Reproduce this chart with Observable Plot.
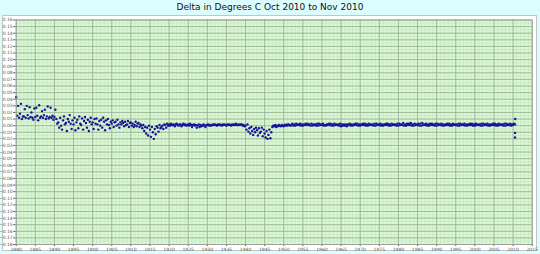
<!DOCTYPE html>
<html><head><meta charset="utf-8">
<script src="https://cdn.jsdelivr.net/npm/d3@7"></script>
<script src="https://cdn.jsdelivr.net/npm/@observablehq/plot@0.6"></script>
<style>
html,body{margin:0;padding:0;background:#dcfdfd;width:540px;height:254px;overflow:hidden;font-family:"DejaVu Sans",sans-serif;}
#title{position:absolute;left:0;top:2px;width:540px;text-align:center;font-size:9px;color:#111;}
#panel{position:absolute;left:2px;top:15px;width:533px;height:234px;background:#fff;border:1px solid #c4c4c4;}
#chart{position:absolute;left:0;top:0;}
</style></head>
<body>
<div id="title">Delta in Degrees C Oct 2010 to Nov 2010</div>
<div id="panel"></div>
<div id="chart"></div>
<script>
// Title
const title = "Delta in Degrees C Oct 2010 to Nov 2010";
// Axis ticks
const xTicks = d3.range(1880, 2016, 5);
const yTicks = d3.range(-18, 17).map(v => v / 100);
const firstYear = 1880;
// Quarterly deltas, thousandths of a degree C, one row per year from 1880
const deltaMilli = [
  [43,15,30,12],[18,33,10,14],[14,25,12,30],[16,11,28,13],[20,12,9,26],
  [13,27,15,8],[31,12,14,22],[12,16,24,10],[14,29,11,13],[27,12,15,9],
  [13,24,10,3],[5,-3,12,0],[-6,8,14,2],[4,-8,10,6],[16,3,-5,8],
  [2,12,-7,5],[9,-4,14,3],[1,11,-6,7],[13,4,-3,9],[-8,6,12,2],
  [5,-5,10,3],[11,2,-6,7],[0,9,-3,12],[6,-7,8,2],[10,1,-4,6],
  [3,8,-2,5],[6,0,9,2],[-3,5,2,7],[4,-1,6,1],[2,7,-2,4],
  [5,0,3,-2],[1,6,-1,3],[4,-2,2,0],[-4,1,-8,-2],[-12,-3,-15,0],
  [-6,-17,-2,-10],[-20,-5,-13,-1],[-3,-9,1,-4],[-2,0,-5,2],[1,-3,3,0],
  [2,0,3,1],[1,2,-1,2],[3,1,0,2],[2,-1,1,3],[1,2,0,1],
  [2,0,3,1],[-2,1,2,0],[1,-3,0,2],[-2,1,-1,0],[2,0,-2,1],
  [1,2,0,1],[0,1,2,1],[2,1,0,2],[1,2,1,0],[2,1,2,1],
  [0,2,1,2],[1,0,2,1],[2,1,3,1],[1,2,1,2],[2,0,1,-1],
  [0,-6,2,-9],[-4,-12,-2,-8],[-14,-5,-10,-3],[-7,-15,-4,-11],[-9,-3,-16,-6],
  [-12,-18,-8,-20],[-14,-6,-19,-10],[-2,0,-1,1],[-2,0,-1,1],[0,-1,1,0],
  [-1,1,0,2],[0,2,1,0],[1,3,0,2],[0,3,1,2],[1,3,0,2],
  [0,2,1,3],[1,3,1,2],[0,3,0,2],[1,2,0,3],[0,3,1,2],
  [1,3,0,1],[0,2,1,3],[1,3,0,2],[0,3,1,2],[1,2,0,3],
  [-1,2,0,2],[0,2,-1,2],[1,3,0,2],[0,2,1,3],[1,3,0,2],
  [0,2,1,3],[1,3,0,2],[0,3,1,2],[1,2,0,3],[0,3,1,2],
  [1,3,0,2],[0,2,1,3],[1,3,0,2],[0,3,1,2],[1,2,0,3],
  [0,3,1,2],[1,4,0,2],[0,3,1,3],[1,4,0,2],[0,3,1,2],
  [1,3,0,3],[0,4,1,2],[1,3,0,2],[0,3,1,3],[1,2,0,3],
  [0,3,1,2],[1,3,0,2],[0,2,1,3],[1,3,0,2],[0,3,1,2],
  [1,2,0,3],[0,3,1,2],[1,3,0,2],[0,2,1,3],[1,3,0,2],
  [0,3,1,2],[1,2,0,3],[0,3,1,2],[1,3,0,2],[0,2,1,3],
  [1,3,0,2],[0,3,1,2],[1,2,0,3],[0,3,1,2],[1,3,0,2],
  [1,3,2]
];
// Final scattered points, late 2010
const tailX = [2010.55, 2010.5, 2010.5];
const tailMilli = [10, -11, -18];

const points = [];
deltaMilli.forEach((row, i) => row.forEach((v, q) => points.push({x: firstYear + i + q / 4, y: v / 1000})));
tailX.forEach((x, i) => points.push({x, y: tailMilli[i] / 1000}));

const minorX = d3.range(1880, 2016, 1);
const minorY = d3.range(-36, 33).map(v => v / 200);

const chart = Plot.plot({
  width: 540, height: 254,
  marginLeft: 15.7, marginRight: 8.3, marginTop: 19.5, marginBottom: 10,
  style: {background: "transparent", fontFamily: "DejaVu Sans, sans-serif", fontSize: "4.5px", color: "#555"},
  x: {domain: [1880, 2015], ticks: xTicks, tickFormat: d => String(d), tickSize: 2, tickPadding: 1, label: null},
  y: {domain: [-0.18, 0.16], ticks: yTicks, tickFormat: d3.format(".2f"), tickSize: 2.5, tickPadding: 1, label: null},
  marks: [
    Plot.frame({fill: "#d9f8d3", stroke: null}),
    Plot.ruleX(minorX, {stroke: "#c4e3bd", strokeWidth: 0.6}),
    Plot.ruleY(minorY, {stroke: "#c4e3bd", strokeWidth: 0.6}),
    Plot.ruleX(xTicks, {stroke: "#93b091", strokeWidth: 0.8}),
    Plot.ruleY(yTicks, {stroke: "#93b091", strokeWidth: 0.8}),
    Plot.dot(points, {x: "x", y: "y", r: 1.2, fill: "#14149a", stroke: null}),
    Plot.frame({stroke: "#9a9a9a", strokeWidth: 0.8})
  ]
});
document.getElementById("chart").appendChild(chart);
</script>
</body></html>
